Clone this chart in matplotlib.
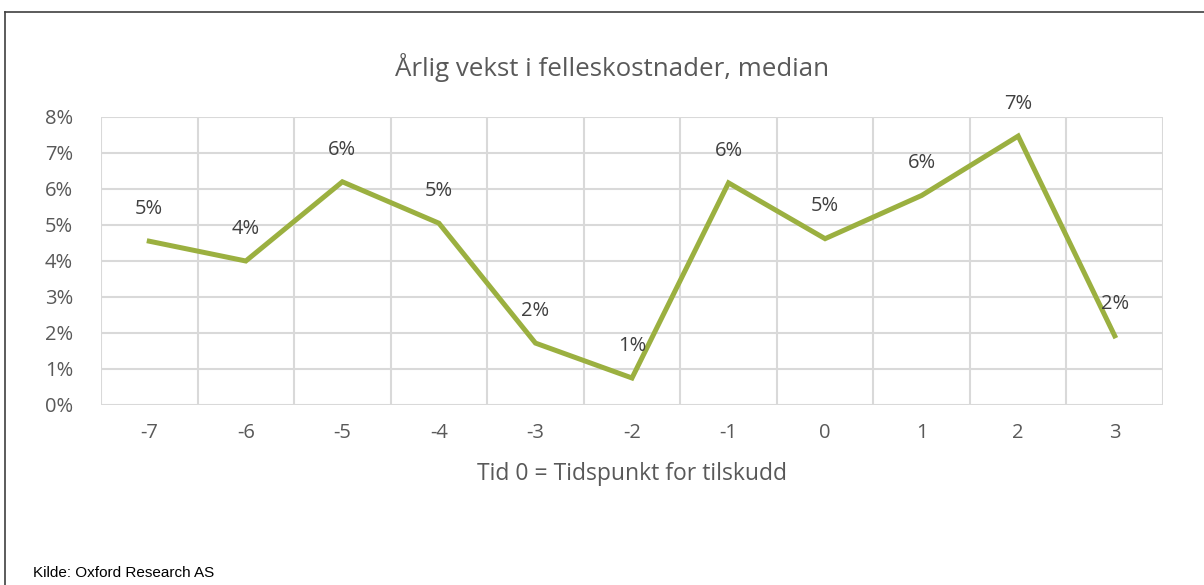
import matplotlib.pyplot as plt
from matplotlib.lines import Line2D

# data
years = ["-7", "-6", "-5", "-4", "-3", "-2", "-1", "0", "1", "2", "3"]
growth = [4.55, 4.0, 6.2, 5.05, 1.72, 0.75, 6.17, 4.62, 5.82, 7.47, 1.92]
labels = ["5%", "4%", "6%", "5%", "2%", "1%", "6%", "5%", "6%", "7%", "2%"]
yticks = [0, 1, 2, 3, 4, 5, 6, 7, 8]

txt = "#595959"
green = "#9BB040"
grid = "#D9D9D9"
plt.rcParams['font.family'] = ['Open Sans', 'DejaVu Sans']

fig = plt.figure(figsize=(12.04, 5.85), dpi=100)
ax = fig.add_axes([101/1204, 1-405/585, (1163-101)/1204, (405-117)/585])

x = list(range(len(years)))
ax.plot(x, growth, color=green, lw=3.6, solid_joinstyle='miter', zorder=3)
for xi, v, lab in zip(x, growth, labels):
    ax.annotate(lab, (xi, v), xytext=(0, 16), textcoords='offset points',
                ha='center', va='bottom', fontsize=14.5, color="#404040")

ax.set_xlim(-0.5, len(years)-0.5)
ax.set_ylim(0, 8)
ax.set_yticks(yticks)
ax.set_yticklabels([f"{t}%" for t in yticks])
ax.set_xticks(x)
ax.set_xticklabels(years)
# vertical gridlines sit between categories
ax.set_xticks([i - 0.5 for i in range(len(years)+1)], minor=True)
ax.grid(which='minor', axis='x', color=grid, lw=1.5)
ax.grid(which='major', axis='y', color=grid, lw=1.5)
ax.tick_params(which='both', length=0, labelsize=14.5, colors=txt)
ax.tick_params(axis='y', pad=20)
ax.tick_params(axis='x', pad=13)
for s in ax.spines.values():
    s.set_visible(False)
ax.set_axisbelow(True)

fig.text(612/1204, 1-68/585, "Årlig vekst i felleskostnader, median",
         ha='center', va='center', fontsize=18.6, color=txt)
fig.text(632/1204, 1-474/585, "Tid 0 = Tidspunkt for tilskudd",
         ha='center', va='center', fontsize=16.5, color=txt)
fig.text(33/1204, 1-573/585, "Kilde: Oxford Research AS",
         ha='left', va='center', fontsize=11, color="black",
         family=['Liberation Sans Narrow', 'Liberation Sans'])

# chart frame (only left and top edge are visible)
fig.add_artist(Line2D([5/1204, 5/1204], [0, 1-12/585], color="#404040", lw=1.2))
fig.add_artist(Line2D([5/1204, 1], [1-12/585, 1-12/585], color="#404040", lw=1.2))

fig.savefig("out.png", dpi=100)
